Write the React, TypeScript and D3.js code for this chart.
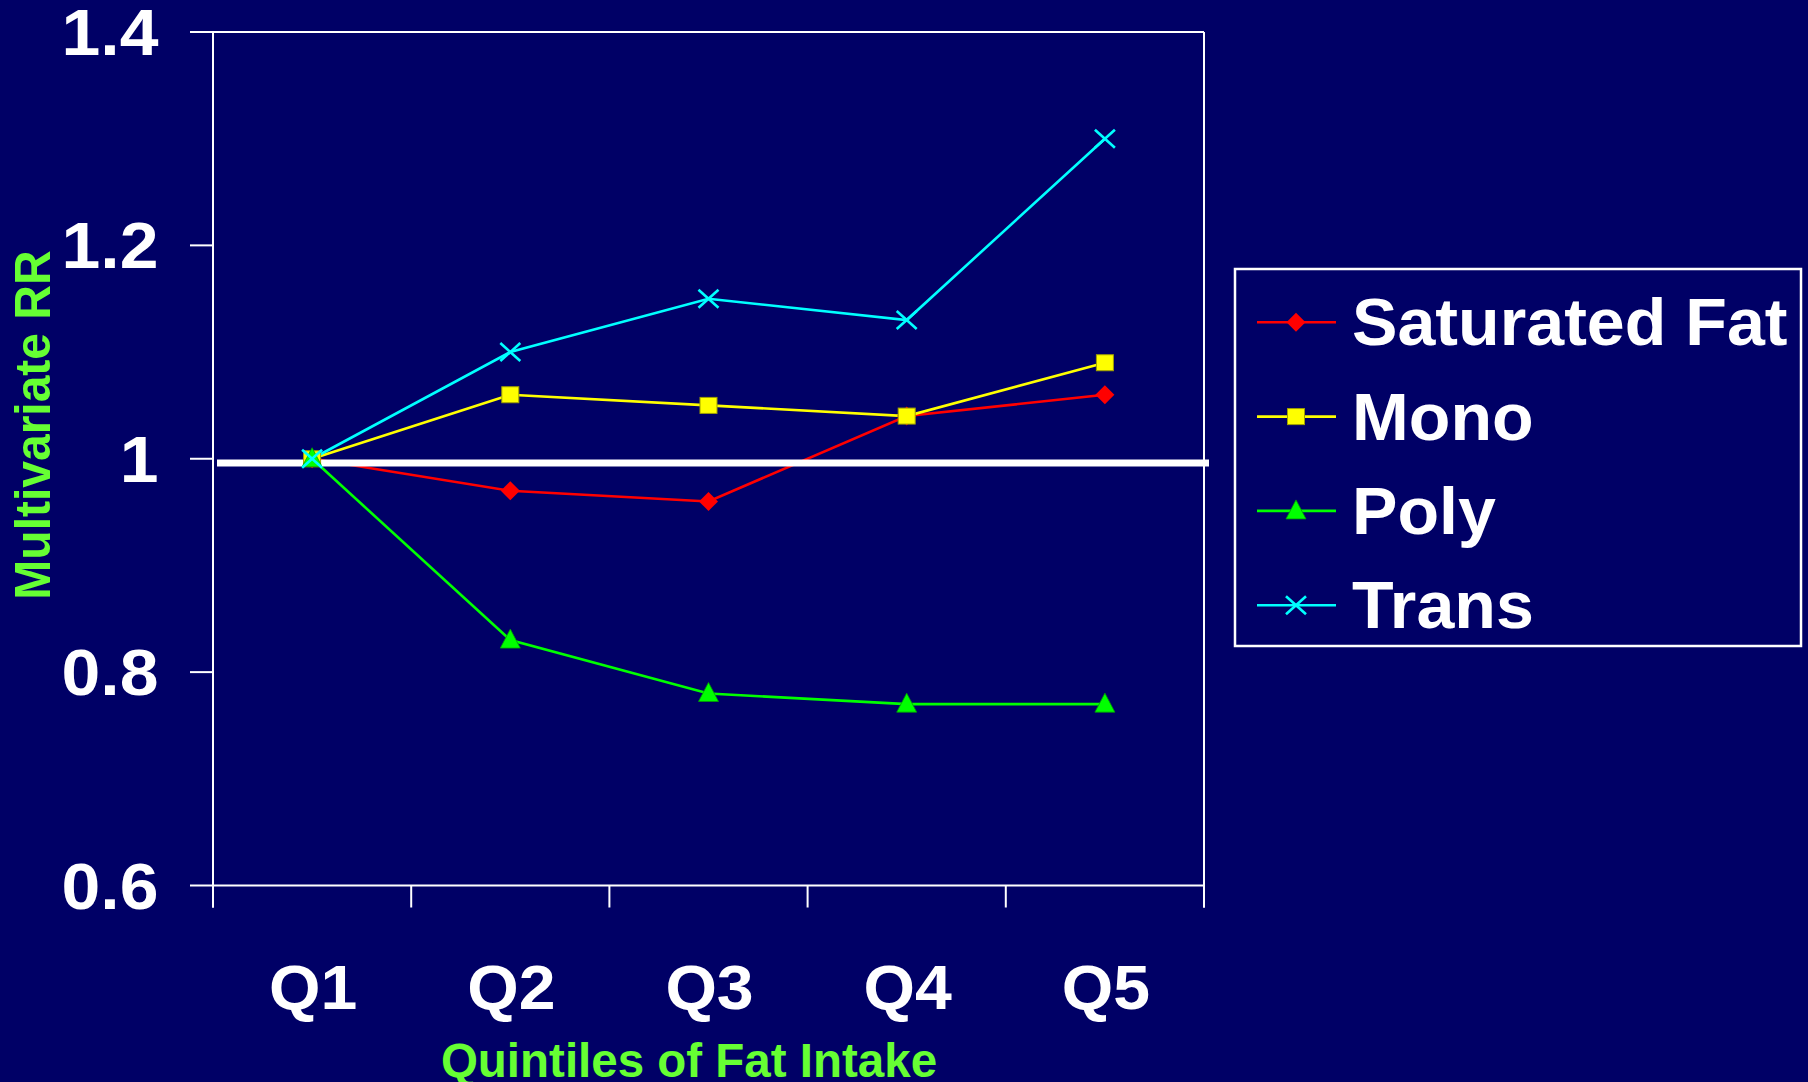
import React from "react";
import * as d3 from "d3";

// Quintile categories and multivariate relative risk by fat type
const quintiles = ["Q1", "Q2", "Q3", "Q4", "Q5"];
const saturatedFat = [1.0, 0.97, 0.96, 1.04, 1.06];
const mono = [1.0, 1.06, 1.05, 1.04, 1.09];
const poly = [1.0, 0.83, 0.78, 0.77, 0.77];
const trans = [1.0, 1.1, 1.15, 1.13, 1.3];
const yTicks = [0.6, 0.8, 1.0, 1.2, 1.4];
const yTickLabels = ["0.6", "0.8", "1", "1.2", "1.4"];
const referenceRR = 0.996;

type Shape = "diamond" | "square" | "triangle" | "cross";
const series: { name: string; values: number[]; color: string; shape: Shape }[] = [
  { name: "Saturated Fat", values: saturatedFat, color: "#ff0000", shape: "diamond" },
  { name: "Mono", values: mono, color: "#ffff00", shape: "square" },
  { name: "Poly", values: poly, color: "#00ff00", shape: "triangle" },
  { name: "Trans", values: trans, color: "#00ffff", shape: "cross" },
];

const W = 1808;
const H = 1082;
const BG = "#000066";
const TITLE_GREEN = "#66ff33";
const FONT = "'Liberation Sans', Arial, Helvetica, sans-serif";

const plot = { left: 213, right: 1204, top: 32, bottom: 885.5 };

function Marker({ shape, color, x, y }: { shape: Shape; color: string; x: number; y: number }) {
  if (shape === "diamond") {
    const r = 9.5;
    return (
      <path
        d={`M${x},${y - r}L${x + r},${y}L${x},${y + r}L${x - r},${y}Z`}
        fill={color}
      />
    );
  }
  if (shape === "square") {
    return (
      <rect x={x - 8.5} y={y - 8} width={17} height={16} fill={color} stroke="#a0a000" strokeWidth={1} />
    );
  }
  if (shape === "triangle") {
    return (
      <path
        d={`M${x},${y - 11}L${x + 10},${y + 8}L${x - 10},${y + 8}Z`}
        fill={color}
        stroke="#00a000"
        strokeWidth={0.8}
      />
    );
  }
  const dx = 10;
  const dy = 9;
  return (
    <g stroke={color} strokeWidth={2.6}>
      <line x1={x - dx} y1={y - dy} x2={x + dx} y2={y + dy} />
      <line x1={x - dx} y1={y + dy} x2={x + dx} y2={y - dy} />
    </g>
  );
}

export default function App() {
  const x = d3.scaleBand<string>().domain(quintiles).range([plot.left, plot.right]).padding(0);
  const y = d3.scaleLinear().domain([0.6, 1.4]).range([plot.bottom, plot.top]);
  const cx = (q: string) => (x(q) ?? 0) + x.bandwidth() / 2;

  const line = d3
    .line<number>()
    .x((_, i) => cx(quintiles[i]))
    .y((v) => y(v));

  const boundaries = quintiles.map((q) => x(q) ?? 0).concat([plot.right]);

  const legend = { x: 1235, y: 269, w: 566, h: 377, row0: 322.3, rowStep: 94.3 };

  return (
    <svg
      width={W}
      height={H}
      style={{ position: "absolute", left: 0, top: 0, display: "block" }}
      fontFamily={FONT}
      fontWeight="bold"
    >
      <rect x={0} y={0} width={W} height={H} fill={BG} />

      {/* plot frame */}
      <g stroke="#ffffff" strokeWidth={2} fill="none">
        <line x1={plot.left} y1={plot.top} x2={plot.right} y2={plot.top} />
        <line x1={plot.right} y1={plot.top} x2={plot.right} y2={plot.bottom + 22} />
        <line x1={plot.left} y1={plot.top} x2={plot.left} y2={plot.bottom + 22} />
        <line x1={plot.left} y1={plot.bottom} x2={plot.right} y2={plot.bottom} />
        {yTicks.map((t) => (
          <line key={`yt${t}`} x1={plot.left - 23} y1={y(t)} x2={plot.left} y2={y(t)} />
        ))}
        {boundaries.map((b, i) => (
          <line key={`xt${i}`} x1={b} y1={plot.bottom} x2={b} y2={plot.bottom + 22} />
        ))}
      </g>

      {/* y tick labels */}
      {yTicks.map((t, i) => (
        <text
          key={`yl${t}`}
          x={0}
          y={0}
          transform={`translate(158.5,${y(t) + 23}) scale(1.09,1)`}
          textAnchor="end"
          fontSize={64}
          fill="#ffffff"
        >
          {yTickLabels[i]}
        </text>
      ))}

      {/* x tick labels */}
      {quintiles.map((q) => (
        <text
          key={`xl${q}`}
          x={0}
          y={0}
          transform={`translate(${cx(q) + 1},1009) scale(1.05,1)`}
          textAnchor="middle"
          fontSize={63}
          fill="#ffffff"
        >
          {q}
        </text>
      ))}

      {/* axis titles */}
      <text x={689} y={1077} textAnchor="middle" fontSize={47.5} fill={TITLE_GREEN}>
        Quintiles of Fat Intake
      </text>
      <text
        transform="translate(50,425) rotate(-90) scale(1,1.06)"
        textAnchor="middle"
        fontSize={48}
        fill={TITLE_GREEN}
      >
        Multivariate RR
      </text>

      {/* series lines */}
      {series.map((s) => (
        <path key={`l${s.name}`} d={line(s.values) ?? ""} fill="none" stroke={s.color} strokeWidth={2.6} />
      ))}

      {/* reference line */}
      <line x1={217} x2={1209} y1={y(referenceRR)} y2={y(referenceRR)} stroke="#ffffff" strokeWidth={7} />

      {/* markers */}
      {series.map((s) => (
        <g key={`m${s.name}`}>
          {s.values.map((v, i) => (
            <Marker key={i} shape={s.shape} color={s.color} x={cx(quintiles[i])} y={y(v)} />
          ))}
        </g>
      ))}

      {/* legend */}
      <rect
        x={legend.x}
        y={legend.y}
        width={legend.w}
        height={legend.h}
        fill={BG}
        stroke="#ffffff"
        strokeWidth={2.5}
      />
      {series.map((s, i) => {
        const ry = legend.row0 + i * legend.rowStep;
        return (
          <g key={`lg${s.name}`}>
            <line x1={1257} x2={1336} y1={ry} y2={ry} stroke={s.color} strokeWidth={2.6} />
            <Marker shape={s.shape} color={s.color} x={1296} y={ry} />
            <text
              x={0}
              y={0}
              transform={`translate(1352,${ry + 23}) scale(1.033,1)`}
              fontSize={66}
              fill="#ffffff"
            >
              {s.name}
            </text>
          </g>
        );
      })}
    </svg>
  );
}
